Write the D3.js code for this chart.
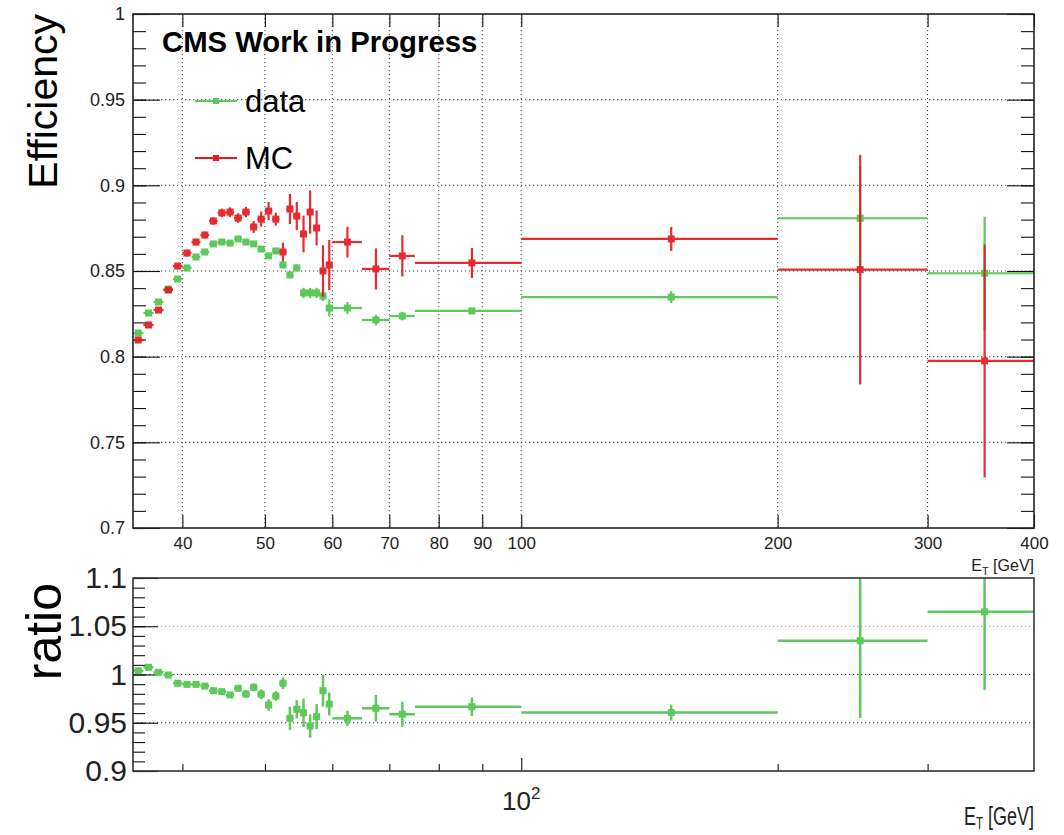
<!DOCTYPE html>
<html>
<head>
<meta charset="utf-8">
<script src="https://cdn.jsdelivr.net/npm/d3@7"></script>
<style>
  body { margin: 0; background: #fff; }
  text { font-family: "Liberation Sans", Arial, Helvetica, sans-serif; }
</style>
</head>
<body>
<script>
// E_T bin edges [GeV]
const binEdges = [35, 36, 37, 38, 39, 40, 41, 42, 43, 44, 45, 46, 47, 48, 49, 50,
    51, 52, 53, 54, 55, 56, 57, 58, 59, 60, 65, 70, 75, 100, 200, 300, 400];

// efficiency in data (green)
const dataEff = [0.8138, 0.8255, 0.8319, 0.8395, 0.8453, 0.8518, 0.8582, 0.8611, 0.8658, 0.8669,
    0.8663, 0.8687, 0.8669, 0.8658, 0.8628, 0.8588, 0.8617, 0.8535, 0.8477, 0.8518,
    0.8372, 0.8372, 0.8372, 0.8354, 0.8284, 0.8284, 0.8214, 0.8237, 0.8267, 0.8348,
    0.8808, 0.8487];
const dataErr = [0.0015, 0.0015, 0.0015, 0.0015, 0.0015, 0.0015, 0.0015, 0.0015, 0.0015, 0.0015,
    0.0015, 0.0015, 0.0015, 0.0015, 0.0015, 0.0015, 0.0015, 0.002, 0.002, 0.002,
    0.003, 0.003, 0.003, 0.003, 0.005, 0.0035, 0.003, 0.0025, 0.0018, 0.0035,
    0.03, 0.033];

// efficiency in MC (red)
const mcEff = [0.8097, 0.8185, 0.8272, 0.8389, 0.8529, 0.8605, 0.8669, 0.871, 0.8792, 0.8839,
    0.8844, 0.8809, 0.8844, 0.8757, 0.8803, 0.885, 0.8803, 0.8611, 0.8862, 0.8821,
    0.8716, 0.8844, 0.8751, 0.85, 0.8535, 0.8669, 0.8512, 0.8588, 0.8547, 0.8687,
    0.8508, 0.7975];
const mcErr = [0.0015, 0.0015, 0.0015, 0.0015, 0.0018, 0.002, 0.002, 0.002, 0.0022, 0.0025,
    0.0028, 0.0028, 0.003, 0.0035, 0.0044, 0.0053, 0.0038, 0.0055, 0.0088, 0.0082,
    0.0107, 0.0126, 0.0102, 0.015, 0.0146, 0.009, 0.012, 0.012, 0.0088, 0.007,
    0.067, 0.068];

// data / MC
const ratio = [1.004, 1.0075, 1.0023, 0.9995, 0.9909, 0.9898, 0.9898, 0.988, 0.9832, 0.9822,
    0.9788, 0.9857, 0.9798, 0.9867, 0.9795, 0.9684, 0.9777, 0.9909, 0.9546, 0.9639,
    0.9604, 0.9466, 0.9563, 0.9832, 0.9694, 0.9546, 0.965, 0.9588, 0.9666, 0.9605,
    1.035, 1.065];
const ratioErr = [0.002, 0.002, 0.002, 0.002, 0.002, 0.002, 0.002, 0.002, 0.002, 0.002,
    0.003, 0.003, 0.004, 0.004, 0.005, 0.006, 0.005, 0.006, 0.012, 0.0095,
    0.0147, 0.012, 0.013, 0.0164, 0.012, 0.0078, 0.0138, 0.013, 0.0095, 0.0083,
    0.08, 0.081];

// axis ticks
const xTicks = [40, 50, 60, 70, 80, 90, 100, 200, 300, 400];
const xGrid = [40, 50, 60, 70, 80, 90, 100, 200, 300];
const effTicks = [0.7, 0.75, 0.8, 0.85, 0.9, 0.95, 1];
const effGrid = [0.75, 0.8, 0.85, 0.9, 0.95];
const ratioTicks = [0.9, 0.95, 1, 1.05, 1.1];
const ratioGrid = [0.95, 1, 1.05];

const green = "#5cc95a";
const red = "#e41b1f";

const width = 1064, height = 835;
const svg = d3.select("body").append("svg")
    .attr("width", width)
    .attr("height", height);

const x = d3.scaleLog().domain([35, 400]).range([133, 1034]);
const yEff = d3.scaleLinear().domain([0.7, 1]).range([528, 14]);
const yRat = d3.scaleLinear().domain([0.9, 1.1]).range([771, 578]);

const bins = binEdges.slice(0, -1).map((lo, i) => ({ lo: lo, hi: binEdges[i + 1], c: (lo + binEdges[i + 1]) / 2 }));

// clip areas
const defs = svg.append("defs");
defs.append("clipPath").attr("id", "clipTop").append("rect")
    .attr("x", 133).attr("y", 14).attr("width", 901).attr("height", 514);
defs.append("clipPath").attr("id", "clipBot").append("rect")
    .attr("x", 133).attr("y", 578).attr("width", 901).attr("height", 193);

function dotted(g, x1, y1, x2, y2, col) {
    g.append("line")
        .attr("x1", x1).attr("y1", y1).attr("x2", x2).attr("y2", y2)
        .attr("stroke", col).attr("stroke-width", 1)
        .attr("stroke-dasharray", "1.2,2.8");
}

function drawPoints(g, yScale, vals, errs, color, lw, ms) {
    bins.forEach((b, i) => {
        const v = vals[i], e = errs[i];
        const cx = x(b.c), cy = yScale(v);
        g.append("line")
            .attr("x1", x(b.lo)).attr("x2", x(b.hi))
            .attr("y1", cy).attr("y2", cy)
            .attr("stroke", color).attr("stroke-width", lw);
        g.append("line")
            .attr("x1", cx).attr("x2", cx)
            .attr("y1", yScale(v - e)).attr("y2", yScale(v + e))
            .attr("stroke", color).attr("stroke-width", lw);
        g.append("rect")
            .attr("x", cx - ms / 2).attr("y", cy - ms / 2)
            .attr("width", ms).attr("height", ms)
            .attr("fill", color);
    });
}

function styleAxis(sel) {
    sel.select(".domain").remove();
    sel.selectAll(".tick line").attr("stroke", "#111").attr("stroke-width", 1.1);
    sel.selectAll(".tick text").attr("fill", "#222")
        .style("font-family", "'Liberation Sans', Arial, sans-serif");
}

// ---------- top panel ----------
const upper = svg.append("g");

effGrid.forEach(v => dotted(upper, 133, yEff(v), 1034, yEff(v), "#444"));
xGrid.forEach(v => dotted(upper, x(v), 14, x(v), 528, "#444"));

const minorEff = d3.range(70, 101).map(d => d / 100);
upper.append("g").attr("transform", "translate(133,0)")
    .call(d3.axisLeft(yEff).tickValues(minorEff).tickSize(-13).tickFormat(""))
    .call(styleAxis);
upper.append("g").attr("transform", "translate(133,0)")
    .call(d3.axisLeft(yEff).tickValues(effTicks).tickSize(-27).tickPadding(8).tickFormat(d3.format("~g")))
    .call(styleAxis)
    .selectAll(".tick text").style("font-size", "18px");
upper.append("g").attr("transform", "translate(1034,0)")
    .call(d3.axisRight(yEff).tickValues(minorEff).tickSize(-13).tickFormat(""))
    .call(styleAxis);
upper.append("g").attr("transform", "translate(1034,0)")
    .call(d3.axisRight(yEff).tickValues(effTicks).tickSize(-27).tickFormat(""))
    .call(styleAxis);
upper.append("g").attr("transform", "translate(0,528)")
    .call(d3.axisBottom(x).tickValues(xTicks).tickSize(-13).tickPadding(9).tickFormat(d3.format("d")))
    .call(styleAxis)
    .selectAll(".tick text").style("font-size", "17px");
upper.append("g").attr("transform", "translate(0,14)")
    .call(d3.axisTop(x).tickValues(xTicks).tickSize(-13).tickFormat(""))
    .call(styleAxis);

const topPts = upper.append("g").attr("clip-path", "url(#clipTop)");
drawPoints(topPts.append("g"), yEff, dataEff, dataErr, green, 2.2, 7);
drawPoints(topPts.append("g").attr("opacity", 0.92), yEff, mcEff, mcErr, red, 2.2, 7);

upper.append("rect")
    .attr("x", 133).attr("y", 14).attr("width", 901).attr("height", 514)
    .attr("fill", "none").attr("stroke", "#222").attr("stroke-width", 1.6);

// titles
upper.append("text")
    .attr("transform", "translate(57,14) rotate(-90)")
    .attr("text-anchor", "end")
    .style("font-size", "41px")
    .text("Efficiency");

const xt1 = upper.append("text")
    .attr("x", 1034).attr("y", 571)
    .attr("text-anchor", "end")
    .style("font-size", "16px").attr("fill", "#222");
xt1.append("tspan").text("E");
xt1.append("tspan").attr("dy", 4).style("font-size", "11px").text("T");
xt1.append("tspan").attr("dy", -4).text(" [GeV]");

upper.append("text")
    .attr("x", 162).attr("y", 52)
    .style("font-size", "29.3px").style("font-weight", "bold")
    .text("CMS Work in Progress");

// legend
const legend = [{ name: "data", color: green, y: 101 }, { name: "MC", color: red, y: 158 }];
legend.forEach(l => {
    upper.append("line")
        .attr("x1", 195).attr("x2", 237).attr("y1", l.y).attr("y2", l.y)
        .attr("stroke", l.color).attr("stroke-width", 2.2);
    upper.append("rect")
        .attr("x", 216 - 3).attr("y", l.y - 3).attr("width", 6).attr("height", 6)
        .attr("fill", l.color);
    upper.append("text")
        .attr("x", 245).attr("y", l.y + 11)
        .style("font-size", "31px")
        .text(l.name);
});

// ---------- ratio panel ----------
const lower = svg.append("g");

ratioGrid.forEach(v => dotted(lower, 133, yRat(v), 1034, yRat(v), v === 1.05 ? "#999" : "#333"));

const minorRat = d3.range(90, 111).map(d => d / 100);
lower.append("g").attr("transform", "translate(133,0)")
    .call(d3.axisLeft(yRat).tickValues(minorRat).tickSize(-12).tickFormat(""))
    .call(styleAxis);
lower.append("g").attr("transform", "translate(133,0)")
    .call(d3.axisLeft(yRat).tickValues(ratioTicks).tickSize(-25).tickPadding(6).tickFormat(d3.format("~g")))
    .call(styleAxis)
    .selectAll(".tick text").style("font-size", "30px");

// log axis ticks at the bottom of the ratio panel
lower.append("g").attr("transform", "translate(0,771)")
    .call(d3.axisBottom(x).tickValues(xGrid.filter(v => v !== 100)).tickSize(-7).tickFormat(""))
    .call(styleAxis);
lower.append("g").attr("transform", "translate(0,771)")
    .call(d3.axisBottom(x).tickValues([100]).tickSize(-13).tickFormat(""))
    .call(styleAxis);

const lowPts = lower.append("g").attr("clip-path", "url(#clipBot)");
drawPoints(lowPts, yRat, ratio, ratioErr, green, 2.5, 7);

lower.append("rect")
    .attr("x", 133).attr("y", 578).attr("width", 901).attr("height", 193)
    .attr("fill", "none").attr("stroke", "#333").attr("stroke-width", 1.6);

lower.append("text")
    .attr("transform", "translate(61,583) rotate(-90)")
    .attr("text-anchor", "end")
    .style("font-size", "50px")
    .text("ratio");

const dec = lower.append("text")
    .attr("x", x(100)).attr("y", 810)
    .attr("text-anchor", "middle")
    .style("font-size", "26px").attr("fill", "#222");
dec.append("tspan").text("10");
dec.append("tspan").attr("dy", -11).style("font-size", "17px").text("2");

// bottom axis title, narrowed to the width it has in the original
const xt2 = lower.append("text")
    .attr("transform", "translate(1034,825) scale(0.72,1)")
    .attr("text-anchor", "end")
    .style("font-size", "25px").attr("fill", "#222");
xt2.append("tspan").text("E");
xt2.append("tspan").attr("dy", 4).style("font-size", "16px").text("T");
xt2.append("tspan").attr("dy", -4).text(" [GeV]");
</script>
</body>
</html>
